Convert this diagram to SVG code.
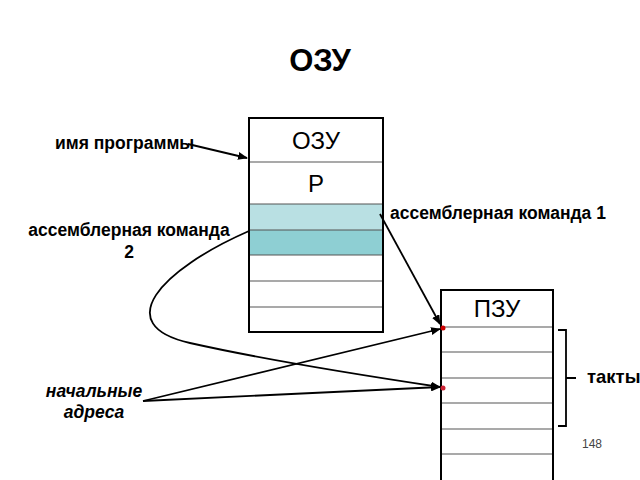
<svg xmlns="http://www.w3.org/2000/svg" width="640" height="480" viewBox="0 0 640 480">
<defs>
<marker id="ah" markerWidth="10" markerHeight="8" refX="9" refY="4" orient="auto" markerUnits="userSpaceOnUse">
<path d="M0,0 L10,4 L0,8 Z" fill="#000"/>
</marker>
<style>
.lbl{font-family:"Liberation Sans",Arial,sans-serif;font-weight:bold;font-size:17.5px;fill:#000}
.cell{font-family:"Liberation Sans",Arial,sans-serif;font-size:24px;fill:#000}
.box{fill:none;stroke:#000;stroke-width:2}
.row{stroke:#555;stroke-width:1.2}
.con{fill:none;stroke:#000;stroke-width:1.8}
</style>
</defs>
<rect width="640" height="480" fill="#fff"/>
<text x="320" y="71" text-anchor="middle" style="font-family:'Liberation Sans',Arial,sans-serif;font-weight:bold;font-size:31px">ОЗУ</text>

<g id="ozu">
<rect x="249" y="204" width="134" height="26" fill="#b9e0e3"/>
<rect x="249" y="230" width="134" height="25" fill="#8ecfd3"/>
<line class="row" x1="249" y1="162" x2="383" y2="162"/>
<line class="row" x1="249" y1="204" x2="383" y2="204"/>
<line class="row" x1="249" y1="230" x2="383" y2="230"/>
<line class="row" x1="249" y1="255" x2="383" y2="255"/>
<line class="row" x1="249" y1="281" x2="383" y2="281"/>
<line class="row" x1="249" y1="307" x2="383" y2="307"/>
<rect class="box" x="249" y="118" width="134" height="214"/>
<text class="cell" x="316" y="149" text-anchor="middle">ОЗУ</text>
<text class="cell" x="316" y="192" text-anchor="middle">Р</text>
</g>

<g id="pzu">
<line class="row" x1="441" y1="327" x2="553" y2="327"/>
<line class="row" x1="441" y1="352" x2="553" y2="352"/>
<line class="row" x1="441" y1="378" x2="553" y2="378"/>
<line class="row" x1="441" y1="403" x2="553" y2="403"/>
<line class="row" x1="441" y1="429" x2="553" y2="429"/>
<line class="row" x1="441" y1="454" x2="553" y2="454"/>
<path class="box" d="M441,482 V290 H553 V482"/>
<text class="cell" x="497" y="317" text-anchor="middle">ПЗУ</text>
</g>

<g id="labels">
<text class="lbl" x="55" y="149">имя программы</text>
<text class="lbl" x="390" y="219">ассемблерная команда 1</text>
<text class="lbl" x="129" y="236" text-anchor="middle">ассемблерная команда</text>
<text class="lbl" x="129" y="258" text-anchor="middle">2</text>
<text class="lbl" x="94" y="397" text-anchor="middle" font-style="italic">начальные</text>
<text class="lbl" x="94" y="418" text-anchor="middle" font-style="italic">адреса</text>
<text class="lbl" x="587" y="383" style="font-size:18.5px">такты</text>
<text x="582" y="448" style="font-family:'Liberation Sans',Arial,sans-serif;font-size:12px;fill:#444">148</text>
</g>

<g id="connectors">
<line class="con" x1="188" y1="144" x2="247" y2="158" marker-end="url(#ah)"/>
<line class="con" x1="380" y1="214" x2="440" y2="324" marker-end="url(#ah)"/>
<path class="con" d="M249,231 C160,270 110,325 190,343 S380,378 440,387" marker-end="url(#ah)"/>
<line class="con" x1="143" y1="401" x2="440" y2="329" marker-end="url(#ah)"/>
<line class="con" x1="143" y1="401" x2="440" y2="387" marker-end="url(#ah)"/>
<path fill="none" stroke="#000" stroke-width="1.8" d="M558,330 H566 V426 H558 M566,378 H576"/>
</g>
<circle cx="443" cy="328" r="2.5" fill="#c00"/>
<circle cx="443" cy="388" r="2.5" fill="#c23"/>
</svg>
